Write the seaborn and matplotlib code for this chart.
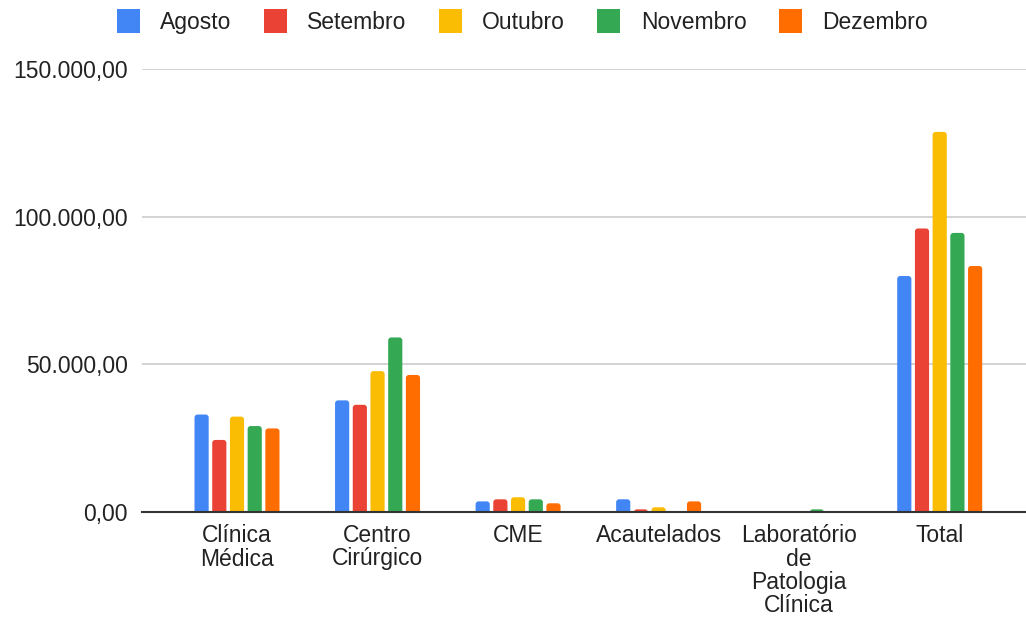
import matplotlib
matplotlib.use("Agg")
import matplotlib.pyplot as plt
import matplotlib.ticker as mticker
from matplotlib.patches import FancyBboxPatch, Patch
import seaborn as sns
import pandas as pd

CATEGORIES = [
    "Clínica\nMédica",
    "Centro\nCirúrgico",
    "CME",
    "Acautelados",
    "Laboratório\nde\nPatologia\nClínica",
    "Total",
]
MONTHS = ["Agosto", "Setembro", "Outubro", "Novembro", "Dezembro"]
COLORS = ["#4285F4", "#EA4335", "#FBBC04", "#34A853", "#FF6D01"]

agosto = [33000, 37800, 3600, 4300, 0, 79900]
setembro = [24400, 36300, 4300, 900, 0, 96000]
outubro = [32300, 47700, 5000, 1600, 0, 128700]
novembro = [29100, 59100, 4300, 300, 900, 94500]
dezembro = [28300, 46400, 2950, 3600, 300, 83300]

series = [agosto, setembro, outubro, novembro, dezembro]
rows = []
for month, values in zip(MONTHS, series):
    for cat, v in zip(CATEGORIES, values):
        rows.append({"categoria": cat, "mes": month, "valor": v})
df = pd.DataFrame(rows)

sns.set_style("white")
plt.rcParams["font.family"] = ["Liberation Sans", "DejaVu Sans"]

fig = plt.figure(figsize=(10.26, 6.17), dpi=100)
ax_left, ax_bottom = 142 / 1026, 1 - 512 / 617
ax_w, ax_h = 1 - 142 / 1026, (512 - 69) / 617
ax = fig.add_axes([ax_left, ax_bottom, ax_w, ax_h])

sns.barplot(
    data=df, x="categoria", y="valor", hue="mes",
    palette=COLORS, saturation=1, width=0.63, gap=0.2, ax=ax, legend=False,
)


def br_format(v, pos):
    return f"{v:,.2f}".replace(",", "X").replace(".", ",").replace("X", ".")


xmin, xmax = -0.676, 5.614
ymax = 150000
ax.set_ylim(0, ymax)
ax.set_xlim(xmin, xmax)

# round the top corners of the bars, like the original chart
px_per_x = 1026 * ax_w / (xmax - xmin)
px_per_y = 617 * ax_h / ymax
aspect = px_per_x / px_per_y
radius = 3 / px_per_x
for bar in list(ax.patches):
    h = bar.get_height()
    bar.set_visible(False)
    if h <= 0:
        continue
    x, w = bar.get_x(), bar.get_width()
    fb = FancyBboxPatch(
        (x, -radius * aspect), w, h + radius * aspect,
        boxstyle=f"round,pad=0,rounding_size={radius}",
        mutation_aspect=aspect, facecolor=bar.get_facecolor(),
        edgecolor="none", zorder=2,
    )
    ax.add_patch(fb)

ax.set_yticks([0, 50000, 100000, 150000])
ax.yaxis.set_major_formatter(mticker.FuncFormatter(br_format))
ax.grid(axis="y", color="#cccccc", linewidth=1.2)
ax.set_axisbelow(True)
for s in ["top", "right", "left"]:
    ax.spines[s].set_visible(False)
ax.spines["bottom"].set_color("#333333")
ax.spines["bottom"].set_linewidth(1.5)
ax.spines["bottom"].set_zorder(3)
ax.set_xlabel("")
ax.set_ylabel("")
ax.tick_params(axis="y", length=0, pad=10, labelsize=16.5, labelcolor="#222222")
ax.tick_params(axis="x", length=0, pad=9, labelsize=16.5, labelcolor="#222222")
for lbl in ax.get_xticklabels():
    lbl.set_linespacing(1.0)

handles = [
    Patch(facecolor=c, edgecolor="none", label=m)
    for m, c in zip(MONTHS, COLORS)
]
fig.legend(
    handles=handles, loc="center", bbox_to_anchor=(0.509, 0.965), ncol=5,
    frameon=False, fontsize=16.5, handlelength=1.0, handleheight=1.2,
    handletextpad=0.9, columnspacing=1.4, labelcolor="#222222",
)

fig.savefig("out.png", dpi=100)
